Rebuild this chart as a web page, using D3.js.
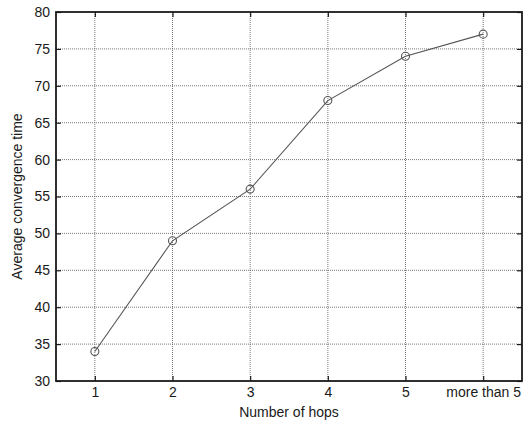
<!DOCTYPE html>
<html lang="en">
<head>
    <meta charset="UTF-8">
    <title>Average convergence time</title>
    <script src="https://d3js.org/d3.v7.min.js"></script>
    <style>
        body { margin: 0; background: #fff; }
        text { font-family: "Liberation Sans", Arial, sans-serif; fill: #1a1a1a; }
    </style>
</head>
<body>
    <div id="my_dataviz"></div>
    <script>
        var hops = [1, 2, 3, 4, 5, 6];
        var hopLabels = ["1", "2", "3", "4", "5", "more than 5"];
        var convTime = [34, 49, 56, 68, 74, 77];
        var yTicks = [30, 35, 40, 45, 50, 55, 60, 65, 70, 75, 80];

        var margin = {top: 12, right: 2, bottom: 41, left: 56},
            width = 524 - margin.left - margin.right,
            height = 422 - margin.top - margin.bottom;

        var svg = d3.select("#my_dataviz")
            .append("svg")
            .attr("width", 524)
            .attr("height", 422)
            .append("g")
            .attr("transform", "translate(" + margin.left + "," + margin.top + ")");

        var x = d3.scaleLinear().domain([0.5, 6.5]).range([0, width]);
        var y = d3.scaleLinear().domain([30, 80]).range([height, 0]);

        // dotted grid
        svg.append("g").selectAll("line.gx")
            .data(hops).enter().append("line")
            .attr("x1", d => x(d)).attr("x2", d => x(d))
            .attr("y1", 0).attr("y2", height)
            .attr("stroke", "#555").attr("stroke-width", 0.8)
            .attr("stroke-dasharray", "1,1");
        svg.append("g").selectAll("line.gy")
            .data(yTicks.slice(1, -1)).enter().append("line")
            .attr("x1", 0).attr("x2", width)
            .attr("y1", d => y(d)).attr("y2", d => y(d))
            .attr("stroke", "#555").attr("stroke-width", 0.8)
            .attr("stroke-dasharray", "1,1");

        // axes with inward ticks
        var xAxis = svg.append("g")
            .attr("transform", "translate(0," + height + ")")
            .call(d3.axisBottom(x).tickValues(hops).tickFormat((d, i) => hopLabels[i])
                .tickSizeInner(-5).tickSizeOuter(0).tickPadding(12));
        var xTop = svg.append("g")
            .call(d3.axisTop(x).tickValues(hops).tickFormat("")
                .tickSizeInner(-5).tickSizeOuter(0));
        var yAxis = svg.append("g")
            .call(d3.axisLeft(y).tickValues(yTicks)
                .tickSizeInner(-5).tickSizeOuter(0).tickPadding(6));
        var yRight = svg.append("g")
            .attr("transform", "translate(" + width + ",0)")
            .call(d3.axisRight(y).tickValues(yTicks).tickFormat("")
                .tickSizeInner(-5).tickSizeOuter(0));

        svg.selectAll(".domain").remove();
        svg.selectAll(".tick line").attr("stroke", "#1a1a1a").attr("stroke-width", 1.2);
        svg.selectAll(".tick text").style("font-size", "14px").attr("fill", "#1a1a1a");
        xAxis.selectAll(".tick text").attr("dy", "0.3em");

        // frame
        svg.append("rect")
            .attr("x", 0).attr("y", 0)
            .attr("width", width).attr("height", height)
            .attr("fill", "none").attr("stroke", "#1a1a1a").attr("stroke-width", 1.8);

        // line + markers
        var pts = hops.map((h, i) => [h, convTime[i]]);
        svg.append("path")
            .datum(pts)
            .attr("fill", "none")
            .attr("stroke", "#555")
            .attr("stroke-width", 1.1)
            .attr("d", d3.line().x(d => x(d[0])).y(d => y(d[1])));
        svg.append("g").selectAll("circle")
            .data(pts).enter().append("circle")
            .attr("cx", d => x(d[0]))
            .attr("cy", d => y(d[1]))
            .attr("r", 4)
            .attr("fill", "none")
            .attr("stroke", "#555")
            .attr("stroke-width", 1.1);

        // axis titles
        svg.append("text")
            .attr("x", width / 2).attr("y", height + 36)
            .attr("text-anchor", "middle")
            .style("font-size", "14px")
            .text("Number of hops");
        svg.append("text")
            .attr("transform", "translate(" + (-34) + "," + (height / 2) + ") rotate(-90)")
            .attr("text-anchor", "middle")
            .style("font-size", "14px")
            .text("Average convergence time");
    </script>
</body>
</html>
